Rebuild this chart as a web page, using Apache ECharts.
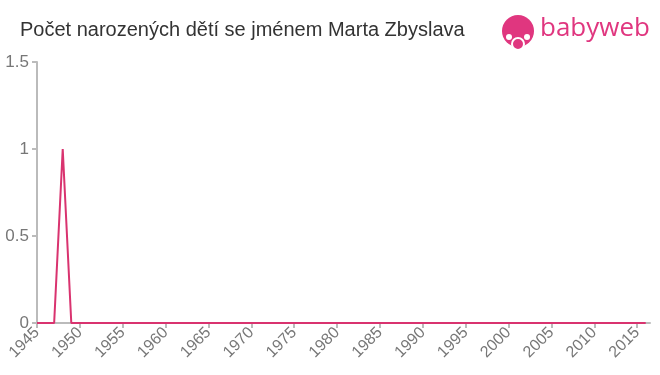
<!DOCTYPE html>
<html><head><meta charset="utf-8">
<script src="https://cdn.jsdelivr.net/npm/echarts@6/dist/echarts.min.js"></script>
<style>html,body{margin:0;padding:0;background:#fff}#c{width:660px;height:375px}</style>
</head><body><div id="c"></div>
<script>
var years = [];
for (var y = 1945; y <= 2016; y++) years.push(y);
var counts = [0,0,0,1,0,0,0,0,0,0, 0,0,0,0,0,0,0,0,0,0, 0,0,0,0,0,0,0,0,0,0, 0,0,0,0,0,0,0,0,0,0, 0,0,0,0,0,0,0,0,0,0, 0,0,0,0,0,0,0,0,0,0, 0,0,0,0,0,0,0,0,0,0, 0,0];
var yTicks = [0, 0.5, 1, 1.5];
var title = 'Počet narozených dětí se jménem Marta Zbyslava';
var data = years.map(function(y, i){ return [y, counts[i]]; });
var chart = echarts.init(document.getElementById('c'), null, {renderer:'canvas'});
chart.setOption({
  animation:false,
  title:{text:title, left:15, top:15, textStyle:{fontFamily:'Liberation Sans, Arial', fontSize:20, fontWeight:'normal', color:'#333'}},
  grid:{left:37, right:10, top:62, bottom:52},
  xAxis:{type:'value', min:1945, max:2016.5, interval:5,
    axisLine:{lineStyle:{color:'#bbb', width:2}},
    axisTick:{show:true, length:5, lineStyle:{color:'#bbb', width:2}},
    splitLine:{show:false},
    axisLabel:{rotate:45, color:'#777', fontSize:16, fontFamily:'Liberation Sans, Arial', showMaxLabel:false, margin:7,
      formatter:function(v){ return String(v); }}},
  yAxis:{type:'value', min:0, max:1.5, interval:0.5,
    axisLine:{show:true, lineStyle:{color:'#bbb', width:2}},
    axisTick:{show:true, length:5, lineStyle:{color:'#bbb', width:2}},
    splitLine:{show:false},
    axisLabel:{color:'#777', fontSize:17, fontFamily:'Liberation Sans, Arial', margin:8,
      formatter:function(v){ return yTicks.indexOf(v) >= 0 ? String(v) : ''; }}},
  series:[{type:'line', data:data, symbol:'none', lineStyle:{color:'#d9336f', width:2}, itemStyle:{color:'#d9336f'}}],
  graphic:[
    {type:'circle', shape:{cx:518, cy:31, r:16}, style:{fill:'#e0367f'}},
    {type:'circle', shape:{cx:518, cy:44, r:6}, style:{fill:'#e0367f', stroke:'#fff', lineWidth:2}},
    {type:'circle', shape:{cx:509, cy:37, r:3}, style:{fill:'#fff'}},
    {type:'circle', shape:{cx:527, cy:37, r:3}, style:{fill:'#fff'}},
    {type:'text', left:540, top:16, style:{text:'babyweb', fill:'#e0367f', font:'500 26px "Open Sans", Roboto, sans-serif'}}
  ]
});
</script></body></html>
